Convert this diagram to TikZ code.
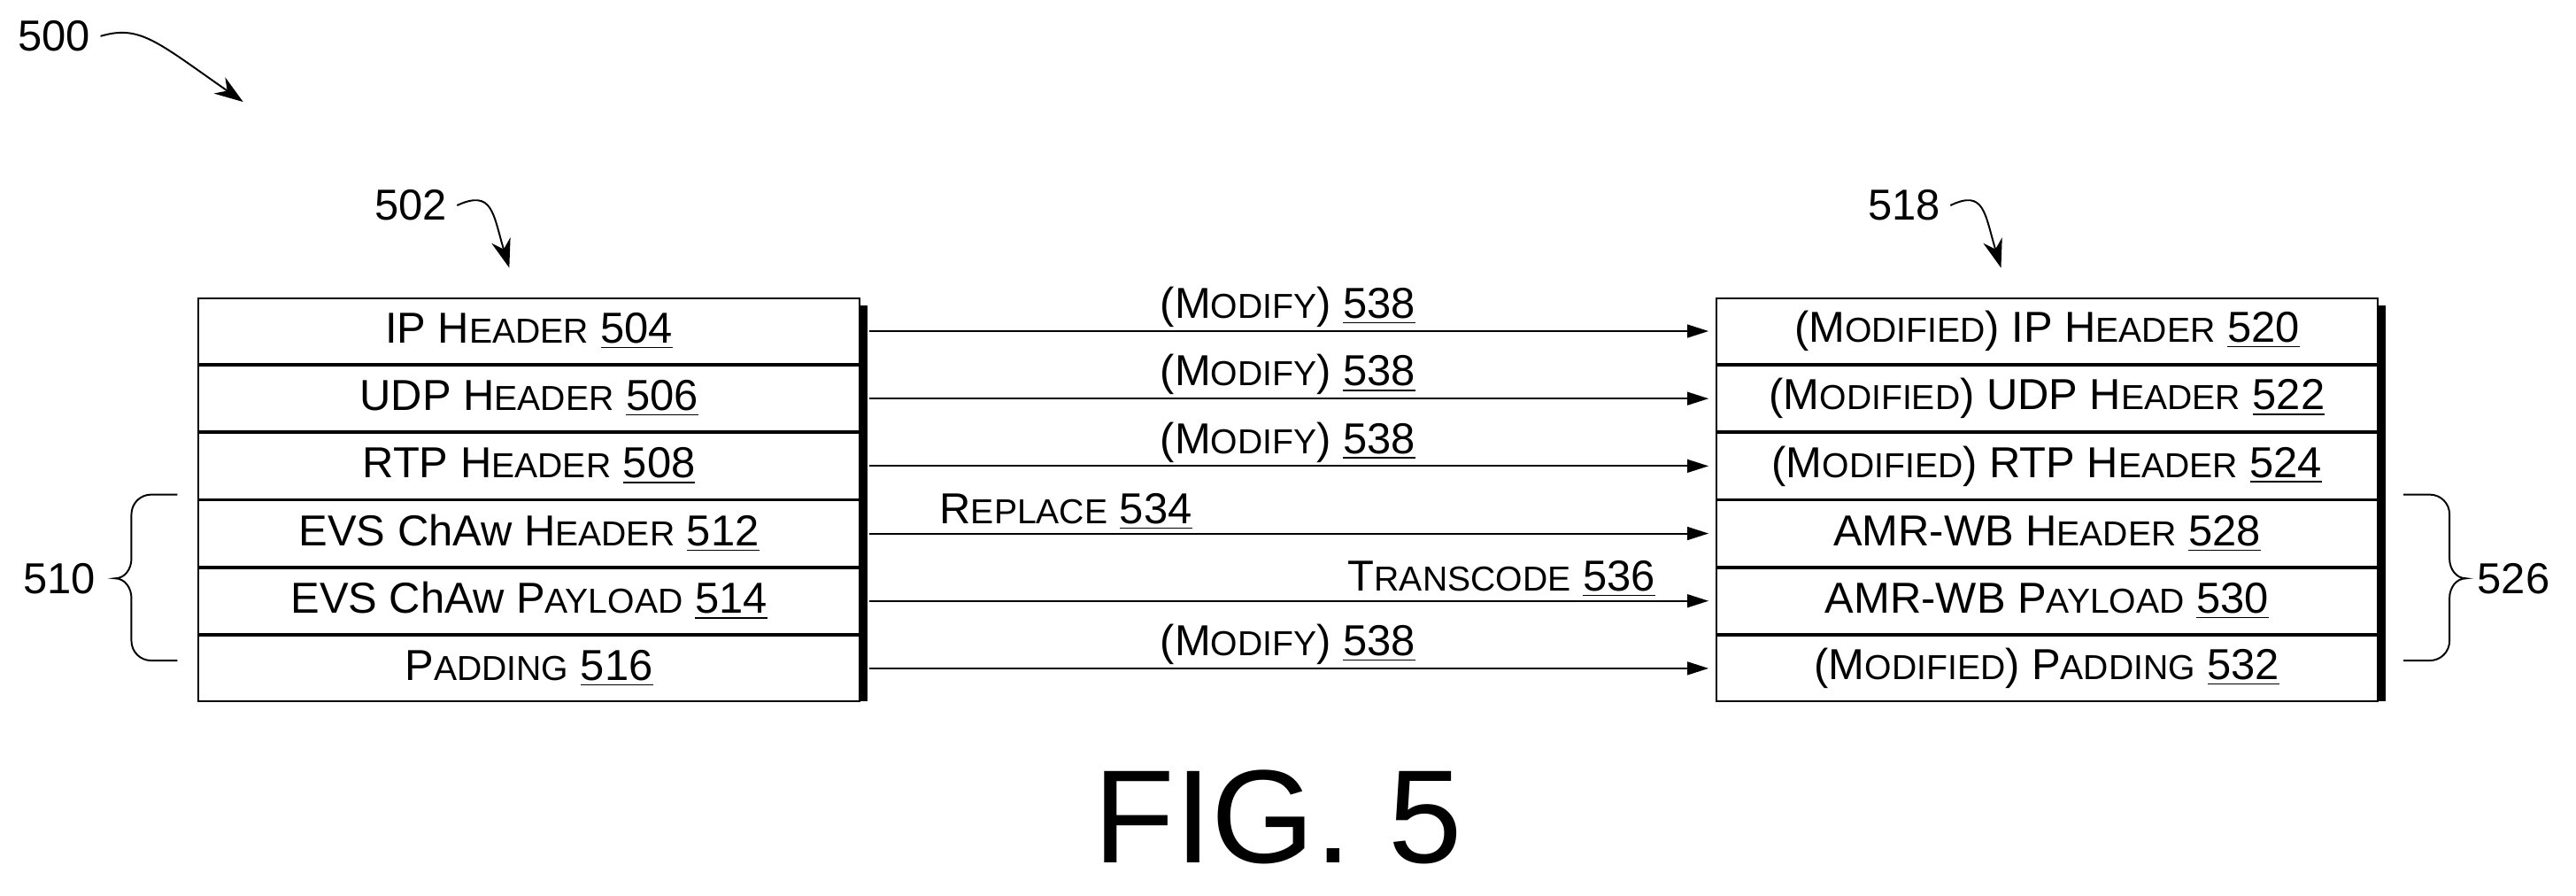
\documentclass[tikz,border=0pt]{standalone}
\usepackage{fontspec}
\setmainfont{Liberation Sans}
\usetikzlibrary{positioning,arrows.meta}
\newcommand\kap[2]{#1{\fontsize{12}{14}\selectfont\MakeUppercase{#2}}}
\tikzset{
  % one field of a packet
  field/.style={
    draw,
    semithick,
    minimum width=8.06cm,
    minimum height=0.8cm,
    inner sep=0pt,
    font=\fontsize{15}{17}\selectfont
  },
  % field to field arrow
  flow/.style={
    draw,
    semithick,
    shorten <=0.1cm,
    shorten >=0.08cm,
    -{Triangle[length=2.6mm,width=1.6mm]}
  },
  % arrow label
  op/.style={
    font=\fontsize{15}{17}\selectfont,
    above,
    inner sep=1pt
  },
  % reference numeral
  numeral/.style={
    font=\fontsize{15}{17}\selectfont
  },
  pointer/.style={
    draw,
    semithick,
    -{Stealth[length=3.5mm,width=2.4mm]}
  }
}
\begin{document}
\begin{tikzpicture}[x=0.02cm,y=-0.02cm]
  \useasboundingbox (0,0) rectangle (1568,545);

  % shadows of the two packets
  \fill (125,186) rectangle (528,427);
  \fill (1049,186) rectangle (1452,427);

  % original packet
  \node[field, fill=white, anchor=north west] (l1) at (120,181) {IP \kap{H}{eader} \underline{504}};
  \node[field, fill=white, below=0pt of l1] (l2) {UDP \kap{H}{eader} \underline{506}};
  \node[field, fill=white, below=0pt of l2] (l3) {RTP \kap{H}{eader} \underline{508}};
  \node[field, fill=white, below=0pt of l3] (l4) {EVS C\kap{h}{}A\kap{w}{} \kap{H}{eader} \underline{512}};
  \node[field, fill=white, below=0pt of l4] (l5) {EVS C\kap{h}{}A\kap{w}{} \kap{P}{ayload} \underline{514}};
  \node[field, fill=white, below=0pt of l5] (l6) {\kap{P}{adding} \underline{516}};

  % modified packet
  \node[field, fill=white, anchor=north west] (r1) at (1044,181) {(\kap{M}{odified}) IP \kap{H}{eader} \underline{520}};
  \node[field, fill=white, below=0pt of r1] (r2) {(\kap{M}{odified}) UDP \kap{H}{eader} \underline{522}};
  \node[field, fill=white, below=0pt of r2] (r3) {(\kap{M}{odified}) RTP \kap{H}{eader} \underline{524}};
  \node[field, fill=white, below=0pt of r3] (r4) {AMR-WB \kap{H}{eader} \underline{528}};
  \node[field, fill=white, below=0pt of r4] (r5) {AMR-WB \kap{P}{ayload} \underline{530}};
  \node[field, fill=white, below=0pt of r5] (r6) {(\kap{M}{odified}) \kap{P}{adding} \underline{532}};

  % operations
  \draw[flow] (l1) -- node[op] {(\kap{M}{odify}) \underline{538}} (r1);
  \draw[flow] (l2) -- node[op] {(\kap{M}{odify}) \underline{538}} (r2);
  \draw[flow] (l3) -- node[op] {(\kap{M}{odify}) \underline{538}} (r3);
  \draw[flow] (l4) -- node[op, pos=0.24] {\kap{R}{eplace} \underline{534}} (r4);
  \draw[flow] (l5) -- node[op, pos=0.75] {\kap{T}{ranscode} \underline{536}} (r5);
  \draw[flow] (l6) -- node[op] {(\kap{M}{odify}) \underline{538}} (r6);

  % braces
  \draw[semithick] (108,301) -- (92,301) to[out=180,in=90] (80,313) -- (80,340)
    to[out=-90,in=0] (70,352) to[out=0,in=90] (80,364) -- (80,390)
    to[out=-90,in=180] (92,402) -- (108,402);
  \draw[semithick] (1463,301) -- (1479,301) to[out=0,in=90] (1491,313) -- (1491,340)
    to[out=-90,in=180] (1501,352) to[out=180,in=90] (1491,364) -- (1491,390)
    to[out=-90,in=0] (1479,402) -- (1463,402);
  \node[numeral] (n510) at (36,352) {510};
  \node[numeral] (n526) at (1530,352) {526};

  % reference pointers
  \node[numeral] (n500) at (33,22) {500};
  \coordinate (p500) at (148,62);
  \draw[pointer] (n500.east) .. controls (85,15) and (95,25) .. (p500);
  \node[numeral] (n502) at (250,125) {502};
  \coordinate (p502) at (310,163);
  \draw[pointer] (n502.east) .. controls (300,115) and (300,130) .. (p502);
  \node[numeral] (n518) at (1159,125) {518};
  \coordinate (p518) at (1218,163);
  \draw[pointer] (n518.east) .. controls (1208,115) and (1208,130) .. (p518);

  \node[font=\fontsize{46}{52}\selectfont, inner sep=0pt] (fig) at (778,497) {FIG. 5};
\end{tikzpicture}
\end{document}
